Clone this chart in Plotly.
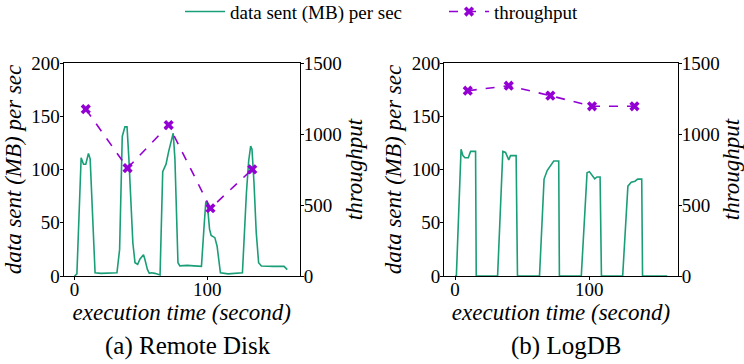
import plotly.graph_objects as go

# ---- data sent (MB) per second over execution time ----
remote_t = [0, 1.8, 5, 6.8, 8.5, 10.5, 11.8, 15.5, 20, 25, 32, 34, 36, 38, 39.6,
            41, 42.6, 44, 45.6, 47.6, 49.4, 52, 53, 55, 56.4, 58, 60.6, 64.5,
            66.5, 69, 71, 73, 74.4, 75.7, 77, 78, 79.4, 85, 90, 95.7, 97.7, 99,
            100, 101.8, 103, 105.8, 107.5, 108.8, 110, 115.8, 123, 126.6, 129.6,
            131.3, 132.8, 133.8, 135.3, 137, 138.8, 140.9, 150, 158, 160.4]
remote_mb = [0, 2, 111, 105, 105, 115, 110, 3, 2.5, 3, 3, 25, 131, 140, 140,
             110, 63, 31, 12.5, 11, 16, 20, 16, 6, 2.5, 3, 2.5, 1,
             98, 105, 117, 129, 134, 110, 56, 12.5, 9.5, 10, 9.5, 9, 47, 70,
             69, 44, 38, 36, 28, 12.5, 3, 2, 2.5, 3, 78,
             108, 122, 119, 88, 41, 12.5, 9.4, 9, 9, 6]

logdb_t = [0, 1, 4.5, 5.9, 7.4, 9.9, 11.6, 15.3, 15.8, 31.7, 35.6, 37.6, 40,
           41.3, 45.5, 46.5, 62.9, 66.3, 68.6, 71, 73.5, 77.2, 77.7, 94, 98.3,
           100, 102, 104, 105.7, 108, 109, 124.8, 128.7, 131.2, 134, 136, 139,
           139.6, 158]
logdb_mb = [0, 0, 119, 113, 111, 111, 117, 117, 0, 0, 117, 116, 109,
            113, 113, 0, 0, 91, 99, 104, 108, 108, 0, 0, 97,
            98, 94.5, 91.3, 93, 93, 0, 0, 84.4, 88, 89, 91, 91,
            0, 0]

# ---- throughput per phase ----
remote_tp_t = [8.5, 40, 71, 102.5, 134]
remote_tp = [1175, 760, 1063, 477, 751]
logdb_tp_t = [9.5, 40, 71, 102, 133.6]
logdb_tp = [1305, 1340, 1270, 1195, 1195]

y_left_ticks = [0, 50, 100, 150, 200]
y_right_ticks = [0, 500, 1000, 1500]
x_ticks = [0, 100]

GREEN = "#1a9e77"
PURPLE = "#9400d3"
FONT = "Liberation Serif, serif"
W, H = 744, 364

fig = go.Figure()

panels = [
    ("x", "y", "y2", remote_t, remote_mb, remote_tp_t, remote_tp, True),
    ("x2", "y3", "y4", logdb_t, logdb_mb, logdb_tp_t, logdb_tp, False),
]
for xa, ya, yb, t, mb, tpt, tp, show in panels:
    fig.add_trace(go.Scatter(
        x=t, y=mb, xaxis=xa, yaxis=ya, mode="lines",
        line=dict(color=GREEN, width=1.6),
        name="data sent (MB) per sec", showlegend=show, legendrank=1))
    fig.add_trace(go.Scatter(
        x=tpt, y=tp, xaxis=xa, yaxis=yb, mode="lines+markers",
        line=dict(color=PURPLE, width=1.6, dash="dash"),
        marker=dict(symbol="x", size=9, color=PURPLE),
        name="throughput", showlegend=show, legendrank=2))

top = 1 - 63 / H
bottom = 1 - 276 / H


def tickfont():
    return dict(family=FONT, size=19, color="black")


def titlefont():
    return dict(family=FONT, size=23, color="black")


def xaxis(domain, rng, anchor):
    return dict(domain=domain, range=rng, anchor=anchor, automargin=False,
                showline=True, linecolor="black", linewidth=1, mirror=True,
                ticks="outside", ticklen=3, tickcolor="black",
                ticklabelstandoff=-7,
                tickvals=x_ticks, tickfont=tickfont(), showgrid=False,
                zeroline=False,
                title=dict(text="<i>execution time (second)</i>",
                           font=titlefont(), standoff=0))


def yaxis(rng, ticks, anchor, title, **kw):
    return dict(range=rng, tickvals=ticks, anchor=anchor, automargin=False,
                showline=True, linecolor="black", linewidth=1,
                ticks="outside", ticklen=3, tickcolor="black",
                ticklabelstandoff=-4,
                tickfont=tickfont(), showgrid=False, zeroline=False,
                domain=[bottom, top],
                title=dict(text=f"<i>{title}</i>", font=titlefont(),
                           standoff=3), **kw)


fig.update_layout(
    width=W, height=H,
    margin=dict(l=0, r=0, t=0, b=0, autoexpand=False),
    paper_bgcolor="white", plot_bgcolor="white",
    font=dict(family=FONT, color="black"),
    xaxis=xaxis([63.5 / W, 300 / W], [-8.3, 170], "y"),
    xaxis2=xaxis([444 / W, 678 / W], [-8.2, 166], "y3"),
    yaxis=yaxis([0, 200], y_left_ticks, "x", "data sent (MB) per sec"),
    yaxis2=yaxis([0, 1500], y_right_ticks, "x", "throughput",
                 overlaying="y", side="right"),
    yaxis3=yaxis([0, 200], y_left_ticks, "x2", "data sent (MB) per sec"),
    yaxis4=yaxis([0, 1500], y_right_ticks, "x2", "throughput",
                 overlaying="y3", side="right"),
    legend=dict(orientation="h", x=180 / W, xanchor="left", y=1.02,
                yanchor="top", font=dict(family=FONT, size=19, color="black"),
                bgcolor="rgba(0,0,0,0)", itemwidth=40,
                entrywidth=209, entrywidthmode="pixels"),
    annotations=[
        dict(text="(a) Remote Disk", x=188 / W, y=1 - 346 / H,
             xref="paper", yref="paper", showarrow=False,
             xanchor="center", yanchor="middle",
             font=dict(family=FONT, size=25, color="black")),
        dict(text="(b) LogDB", x=566 / W, y=1 - 346 / H,
             xref="paper", yref="paper", showarrow=False,
             xanchor="center", yanchor="middle",
             font=dict(family=FONT, size=25, color="black")),
    ],
)

fig.write_html("out.html")
